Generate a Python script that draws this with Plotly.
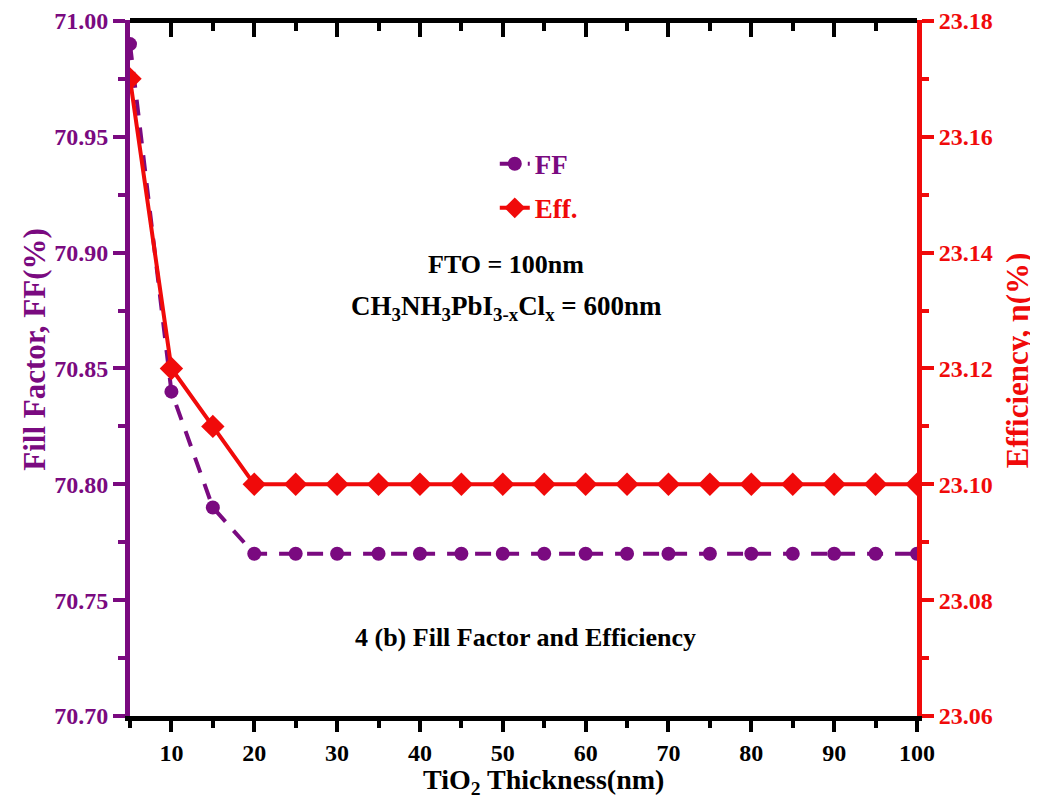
import plotly.graph_objects as go

thickness = [5, 10, 15, 20, 25, 30, 35, 40, 45, 50, 55, 60, 65, 70, 75, 80, 85, 90, 95, 100]
ff = [70.99, 70.84, 70.79, 70.77, 70.77, 70.77, 70.77, 70.77, 70.77, 70.77,
      70.77, 70.77, 70.77, 70.77, 70.77, 70.77, 70.77, 70.77, 70.77, 70.77]
eff = [23.17, 23.12, 23.11, 23.10, 23.10, 23.10, 23.10, 23.10, 23.10, 23.10,
       23.10, 23.10, 23.10, 23.10, 23.10, 23.10, 23.10, 23.10, 23.10, 23.10]
x_major = [10, 20, 30, 40, 50, 60, 70, 80, 90, 100]
x_minor = [5, 15, 25, 35, 45, 55, 65, 75, 85, 95]
ff_major = [70.70, 70.75, 70.80, 70.85, 70.90, 70.95, 71.00]
ff_minor = [70.725, 70.775, 70.825, 70.875, 70.925, 70.975]
eff_major = [23.06, 23.08, 23.10, 23.12, 23.14, 23.16, 23.18]
eff_minor = [23.07, 23.09, 23.11, 23.13, 23.15, 23.17]

PURPLE = "#7A0A80"
RED = "#F00A0A"
FONT = "Liberation Serif"

fig = go.Figure()
fig.add_trace(go.Scatter(
    x=thickness, y=ff, name="<span style='color:%s'>FF</span>" % PURPLE,
    mode="lines+markers", legendgroup="a",
    line=dict(color=PURPLE, width=4, dash="16px,12px"),
    marker=dict(symbol="circle", size=14, color=PURPLE),
    xaxis="x", yaxis="y"))
fig.add_trace(go.Scatter(
    x=thickness, y=eff, name="<span style='color:%s'>Eff.</span>" % RED,
    mode="lines+markers", legendgroup="b",
    line=dict(color=RED, width=4),
    marker=dict(symbol="diamond", size=18, color=RED),
    xaxis="x", yaxis="y2"))
# invisible trace carrying the top (mirror) axis
fig.add_trace(go.Scatter(x=thickness, y=ff, xaxis="x2", yaxis="y",
                         mode="markers", marker=dict(size=1, opacity=0),
                         showlegend=False, hoverinfo="skip"))

tickfont = dict(family=FONT, size=24, weight="bold")

fig.update_layout(
    width=1030, height=798,
    margin=dict(l=122, r=121, t=12, b=90, autoexpand=False),
    plot_bgcolor="white", paper_bgcolor="white",
    font=dict(family=FONT, size=22, weight="bold"),
    showlegend=True,
    legend=dict(x=0.4635, y=0.828, xanchor="left", yanchor="top",
                bgcolor="rgba(0,0,0,0)", tracegroupgap=6,
                font=dict(family=FONT, size=27, weight="bold")),
    xaxis=dict(
        range=[5, 100], showgrid=False, zeroline=False, automargin=False,
        showline=True, linecolor="black", linewidth=5,
        ticks="outside", ticklen=11, tickwidth=4, tickcolor="black",
        tickvals=x_major,
        tickfont=dict(tickfont, color="black"),
        minor=dict(tickvals=x_minor,
                   ticks="outside", ticklen=7, tickwidth=4, tickcolor="black"),
    ),
    xaxis2=dict(
        range=[5, 100], overlaying="x", side="top", anchor="free", position=1,
        showgrid=False, zeroline=False, automargin=False,
        showline=True, linecolor="black", linewidth=5,
        ticks="inside", ticklen=14, tickwidth=4, tickcolor="black",
        tickvals=x_major, showticklabels=False,
        minor=dict(tickvals=x_minor,
                   ticks="inside", ticklen=8, tickwidth=4, tickcolor="black"),
    ),
    yaxis=dict(
        range=[70.70, 71.0004], showgrid=False, zeroline=False, automargin=False,
        showline=True, linecolor=PURPLE, linewidth=5,
        ticks="outside", ticklen=12, tickwidth=4, tickcolor=PURPLE,
        tickvals=ff_major, tickformat=".2f",
        tickfont=dict(tickfont, color=PURPLE),
        minor=dict(tickvals=ff_minor,
                   ticks="outside", ticklen=7, tickwidth=4, tickcolor=PURPLE),
    ),
    yaxis2=dict(
        range=[23.06, 23.18016], overlaying="y", side="right", showgrid=False,
        zeroline=False, automargin=False, showline=True, linecolor=RED, linewidth=5,
        ticks="outside", ticklen=12, tickwidth=4, tickcolor=RED,
        tickvals=eff_major, tickformat=".2f",
        tickfont=dict(tickfont, color=RED),
        minor=dict(tickvals=eff_minor,
                   ticks="outside", ticklen=7, tickwidth=4, tickcolor=RED),
    ),
    annotations=[
        dict(text="TiO<sub>2</sub> Thickness(nm)", x=0.526, y=-0.094,
             xanchor="center", yanchor="middle",
             xref="paper", yref="paper", showarrow=False,
             font=dict(family=FONT, size=28, weight="bold", color="black")),
        dict(text="Fill Factor, FF(%)", x=-0.121, y=0.526, textangle=-90,
             xanchor="center", yanchor="middle",
             xref="paper", yref="paper", showarrow=False,
             font=dict(family=FONT, size=31, weight="bold", color=PURPLE)),
        dict(text="Efficiency, η(%)", x=1.127, y=0.511, textangle=-90,
             xanchor="center", yanchor="middle",
             xref="paper", yref="paper", showarrow=False,
             font=dict(family=FONT, size=31, weight="bold", color=RED)),
        dict(text="FTO = 100nm", x=0.478, y=0.648, xref="paper", yref="paper",
             xanchor="center", yanchor="middle",
             showarrow=False, font=dict(family=FONT, size=26, weight="bold", color="black")),
        dict(text="CH<sub>3</sub>NH<sub>3</sub>PbI<sub>3-x</sub>Cl<sub>x</sub> = 600nm",
             x=0.478, y=0.586, xref="paper", yref="paper", showarrow=False,
             xanchor="center", yanchor="middle",
             font=dict(family=FONT, size=27, weight="bold", color="black")),
        dict(text="4 (b) Fill Factor and Efficiency", x=0.503, y=0.1135,
             xanchor="center", yanchor="middle",
             xref="paper", yref="paper", showarrow=False,
             font=dict(family=FONT, size=26, weight="bold", color="black")),
    ],
)

fig.write_html("out.html")
